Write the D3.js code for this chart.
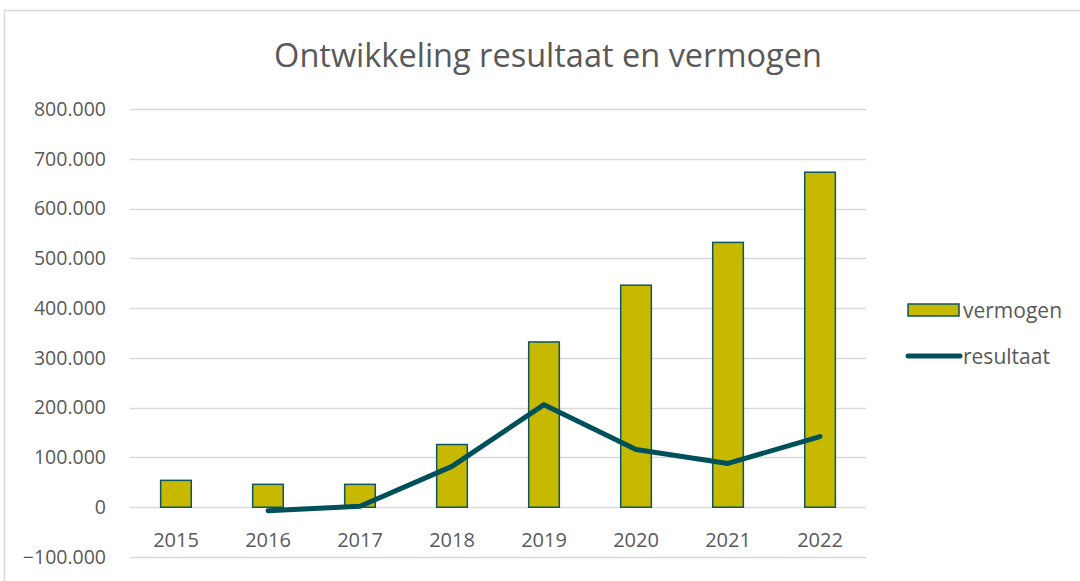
<!DOCTYPE html>
<html lang="nl">
<head>
<meta charset="utf-8">
<title>Ontwikkeling resultaat en vermogen</title>
<script src="https://cdn.jsdelivr.net/npm/d3@7"></script>
<style>
  body { margin: 0; background: #fff; }
  svg text { font-family: "Open Sans", "Noto Sans", sans-serif; fill: #595959; }
</style>
</head>
<body>
<script>
// data
var jaren = ["2015", "2016", "2017", "2018", "2019", "2020", "2021", "2022"];
var vermogen = [54000, 46000, 46000, 126000, 332000, 446000, 532000, 673000];
var resultaat = [null, -7000, 2000, 82000, 206000, 116000, 88000, 142000];
var yTicks = [-100000, 0, 100000, 200000, 300000, 400000, 500000, 600000, 700000, 800000];

var w = 1080, h = 581;
var plotLeft = 130, plotRight = 866, plotTop = 109, plotBottom = 557;

var svg = d3.select("body").append("svg")
    .attr("width", w)
    .attr("height", h);

// rand van de grafiek
svg.append("rect")
   .attr("x", 4.5).attr("y", 10.5)
   .attr("width", w + 10).attr("height", h + 10)
   .attr("fill", "none")
   .attr("stroke", "#d9d9d9")
   .attr("stroke-width", 1.5);

// titel
svg.append("text")
   .attr("x", 548).attr("y", 67)
   .attr("text-anchor", "middle")
   .attr("font-size", "32.5px")
   .text("Ontwikkeling resultaat en vermogen");

// schalen
var x = d3.scaleBand()
    .domain(jaren)
    .range([plotLeft, plotRight])
    .paddingInner(0.667)
    .paddingOuter(0.333);
var xc = d3.scaleBand().domain(jaren).range([plotLeft, plotRight]);

var y = d3.scaleLinear()
    .domain([-100000, 800000])
    .range([plotBottom, plotTop]);

var fmt = function(d) {
    return d3.format(",")(d).replace(/,/g, ".");
};

// rasterlijnen
svg.append("g")
   .selectAll("line")
   .data(yTicks)
   .enter()
   .append("line")
   .attr("x1", plotLeft).attr("x2", plotRight)
   .attr("y1", function(d) { return Math.round(y(d)) + 0.5; })
   .attr("y2", function(d) { return Math.round(y(d)) + 0.5; })
   .attr("stroke", "#d9d9d9")
   .attr("stroke-width", 1.5);

// y-as labels
var yAxis = d3.axisLeft(y).tickValues(yTicks).tickFormat(fmt).tickSize(0).tickPadding(0);
var gy = svg.append("g")
   .attr("transform", "translate(106,0)")
   .call(yAxis);
gy.select(".domain").remove();
gy.selectAll("text")
  .attr("font-size", "19.5px")
  .attr("font-family", "Open Sans, sans-serif")
  .attr("fill", "#595959");

// staven
svg.append("g")
   .selectAll("rect")
   .data(vermogen)
   .enter()
   .append("rect")
   .attr("x", function(d, i) { return x(jaren[i]); })
   .attr("y", function(d) { return y(d); })
   .attr("width", x.bandwidth())
   .attr("height", function(d) { return y(0) - y(d); })
   .attr("fill", "#c7b800")
   .attr("stroke", "#0d5560")
   .attr("stroke-width", 1.5);

// x-as labels
var xAxis = d3.axisBottom(xc).tickSize(0).tickPadding(0);
var gx = svg.append("g")
   .attr("transform", "translate(0," + 547 + ")")
   .call(xAxis);
gx.select(".domain").remove();
gx.selectAll("text")
  .attr("dy", 0)
  .attr("font-size", "20px")
  .attr("font-family", "Open Sans, sans-serif")
  .attr("fill", "#595959");

// lijn resultaat
var line = d3.line()
    .defined(function(d) { return d !== null; })
    .x(function(d, i) { return xc(jaren[i]) + xc.bandwidth() / 2; })
    .y(function(d) { return y(d); });
svg.append("path")
   .datum(resultaat)
   .attr("d", line)
   .attr("fill", "none")
   .attr("stroke", "#00505a")
   .attr("stroke-width", 5)
   .attr("stroke-linecap", "round")
   .attr("stroke-linejoin", "round");

// legenda
var lg = svg.append("g");
lg.append("rect")
  .attr("x", 908).attr("y", 304)
  .attr("width", 51).attr("height", 12)
  .attr("fill", "#c7b800")
  .attr("stroke", "#0d5560")
  .attr("stroke-width", 1.5);
lg.append("text")
  .attr("x", 963).attr("y", 318)
  .attr("font-size", "21px")
  .text("vermogen");
lg.append("line")
  .attr("x1", 908).attr("x2", 960)
  .attr("y1", 356).attr("y2", 356)
  .attr("stroke", "#00505a")
  .attr("stroke-width", 5)
  .attr("stroke-linecap", "round");
lg.append("text")
  .attr("x", 963).attr("y", 364)
  .attr("font-size", "21px")
  .text("resultaat");
</script>
</body>
</html>
